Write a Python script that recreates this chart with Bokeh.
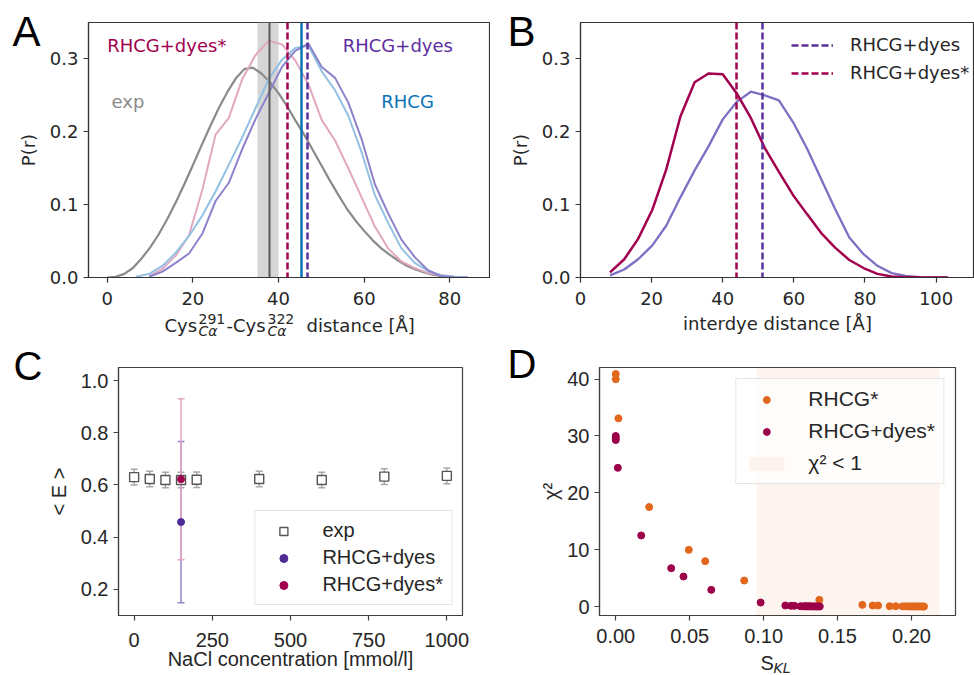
from bokeh.plotting import figure
from bokeh.layouts import row, column
from bokeh.models import (ColumnDataSource, Label, Legend, LegendItem, Range1d,
                          FixedTicker, NumeralTickFormatter, Whisker, TeeHead)
from bokeh.core.properties import value
from bokeh.embed import file_html
from bokeh.resources import INLINE

# ---------------- data ----------------
# Panel A : Cys291-Cys322 distance distributions
a_exp_r = [0, 2, 4, 6, 8, 10, 12, 14, 16, 18, 20, 22, 24, 26, 28, 30, 32, 34, 36, 38, 40,
           42, 44, 46, 48, 50, 52, 54, 56, 58, 60, 62, 64, 66, 68, 70, 72, 74, 76, 78, 80]
a_exp_p = [0.000, 0.001, 0.005, 0.013, 0.026, 0.041, 0.059, 0.080, 0.103, 0.128, 0.154,
           0.181, 0.207, 0.232, 0.254, 0.273, 0.286, 0.288, 0.280, 0.268, 0.253, 0.235,
           0.215, 0.196, 0.175, 0.154, 0.133, 0.113, 0.094, 0.078, 0.064, 0.051, 0.040,
           0.031, 0.023, 0.016, 0.011, 0.007, 0.004, 0.002, 0.001]
a_star_r = [9.8, 12.9, 16.0, 19.1, 22.2, 25.3, 28.4, 31.5, 34.6, 37.7, 40.8, 43.9, 47.0,
            50.1, 53.2, 56.3, 59.4, 62.5, 65.6, 68.7, 71.8, 74.9, 78.0, 81.1, 84.2]
a_star_p = [0.002, 0.012, 0.030, 0.058, 0.120, 0.196, 0.219, 0.272, 0.305, 0.325, 0.320,
            0.298, 0.265, 0.216, 0.188, 0.150, 0.110, 0.070, 0.040, 0.022, 0.013, 0.006,
            0.003, 0.001, 0.000]
a_rhcg_r = [6.7, 9.8, 12.9, 16.0, 19.1, 22.2, 25.3, 28.4, 31.5, 34.6, 37.7, 40.8, 43.9,
            47.0, 50.1, 53.2, 56.3, 59.4, 62.5, 65.6, 68.7, 71.8, 74.9, 78.0, 81.1, 84.2]
a_rhcg_p = [0.001, 0.005, 0.016, 0.034, 0.057, 0.085, 0.118, 0.155, 0.192, 0.232, 0.272,
            0.299, 0.315, 0.318, 0.283, 0.257, 0.222, 0.172, 0.113, 0.075, 0.040, 0.020,
            0.009, 0.003, 0.001, 0.000]
a_dyes_r = [9.8, 12.9, 16.0, 19.1, 22.2, 25.3, 28.4, 31.5, 34.6, 37.7, 40.8, 43.9, 47.0,
            50.1, 53.2, 56.3, 59.4, 62.5, 65.6, 68.7, 71.8, 74.9, 78.0, 81.1, 84.2]
a_dyes_p = [0.001, 0.008, 0.020, 0.033, 0.060, 0.105, 0.130, 0.176, 0.217, 0.253, 0.289,
            0.311, 0.321, 0.289, 0.274, 0.240, 0.190, 0.128, 0.088, 0.052, 0.028, 0.010,
            0.002, 0.0005, 0.000]
a_exp_mean = 37.8
a_exp_mean_lo = 35.0
a_exp_mean_hi = 40.0
a_star_mean = 42.1
a_rhcg_mean = 45.4
a_dyes_mean = 46.8

# Panel B : interdye distance distributions
b_r = [8.3, 12.3, 16.2, 20.2, 24.1, 28.1, 32.1, 36.0, 40.0, 43.9, 47.9, 51.8, 55.8,
       59.8, 63.7, 67.7, 71.6, 75.6, 79.6, 83.5, 87.5, 91.4, 95.4, 99.3, 103.3]
b_star_p = [0.007, 0.025, 0.053, 0.093, 0.148, 0.221, 0.268, 0.280, 0.279, 0.253, 0.219,
            0.178, 0.145, 0.113, 0.087, 0.061, 0.041, 0.024, 0.013, 0.005, 0.0015,
            0.0005, 0.0002, 0.0001, 0.0]
b_dyes_p = [0.003, 0.011, 0.025, 0.044, 0.071, 0.110, 0.147, 0.180, 0.217, 0.241, 0.255,
            0.250, 0.243, 0.213, 0.177, 0.135, 0.094, 0.055, 0.032, 0.016, 0.006, 0.0023,
            0.0006, 0.0001, 0.0]
b_dyes_mean = 51.3
b_star_mean = 44.0

# Panel C : <E> vs NaCl concentration
c_salt = [0, 50, 100, 150, 200, 400, 600, 800, 1000]
c_E_exp = [0.630, 0.623, 0.619, 0.619, 0.620, 0.623, 0.619, 0.632, 0.635]
c_E_exp_err = [0.03, 0.03, 0.03, 0.03, 0.03, 0.03, 0.03, 0.03, 0.03]
c_salt_sim = [150]
c_E_dyes = [0.458]
c_E_dyes_err = [0.309]
c_E_star = [0.622]
c_E_star_err = [0.308]

# Panel D : chi^2 vs S_KL
d_skl_rhcg = [0.0, 0.0, 0.0018, 0.0226, 0.0494, 0.0605, 0.0869, 0.1377, 0.1668, 0.1738,
              0.1774, 0.1853, 0.1894, 0.1940, 0.1960, 0.1975, 0.1990, 0.2000, 0.2010,
              0.2020, 0.2030, 0.2040, 0.2050, 0.2060, 0.2070, 0.2080, 0.2085]
d_chi_rhcg = [40.9, 40.0, 33.1, 17.5, 9.97, 7.98, 4.57, 1.17, 0.29, 0.18, 0.18, 0.06, 0.06,
              0.03, 0.03, 0.02, 0.02, 0.02, 0.02, 0.01, 0.01, 0.01, 0.01, 0.01, 0.01,
              0.0, 0.0]
d_skl_star = [0.0, 0.0, 0.0, 0.0014, 0.0172, 0.0375, 0.0458, 0.0646, 0.098, 0.1147,
              0.1185, 0.1208, 0.125, 0.127, 0.128, 0.129, 0.130, 0.131, 0.132, 0.133,
              0.134, 0.135, 0.136, 0.137, 0.138]
d_chi_star = [30.0, 29.6, 29.3, 24.4, 12.5, 6.74, 5.28, 2.93, 0.70, 0.18, 0.12, 0.12, 0.05,
              0.04, 0.04, 0.03, 0.03, 0.03, 0.02, 0.02, 0.02, 0.02, 0.01, 0.01, 0.01]
d_span_lo = 0.095
d_span_hi = 0.219

# ---------------- style ----------------
CRIMSON = "#a1004f"
PURPLE = "#5b2e9e"
PURPLE_LINE = "#7b71c3"
LAVENDER = "#8d83cb"
BLUE = "#0b72b5"
LIGHTBLUE = "#93c1e3"
PINK = "#e2a8c0"
GRAY = "#8a8a8a"
DARKGRAY = "#5a5a5a"
BAND = "#cfcfcf"
ORANGE = "#e2671c"
TXT = "#262626"
DJ = "DejaVu Sans"
LB = "Liberation Sans"


def make_fig(w, h, xr, yr, bl, br, bt, bb, font, fs, spine):
    p = figure(width=w, height=h, x_range=Range1d(*xr), y_range=Range1d(*yr),
               output_backend="svg", toolbar_location=None,
               min_border_left=bl, min_border_right=br, min_border_top=bt,
               min_border_bottom=bb)
    p.xgrid.visible = False
    p.ygrid.visible = False
    p.outline_line_color = spine
    p.outline_line_width = 1.2
    p.outline_line_alpha = 1.0
    for ax in (p.xaxis[0], p.yaxis[0]):
        ax.axis_line_color = spine
        ax.axis_line_width = 1.2
        ax.major_tick_line_color = spine
        ax.major_tick_line_width = 1.2
        ax.major_tick_in = 0
        ax.major_tick_out = 5
        ax.minor_tick_line_color = None
        ax.major_label_text_font = font
        ax.major_label_text_font_size = fs
        ax.major_label_text_color = TXT
        ax.axis_label_text_font = font
        ax.axis_label_text_font_size = fs
        ax.axis_label_text_font_style = "normal"
        ax.axis_label_text_color = TXT
    return p


def otext(p, x, y, t, dx, dy, font, size, style="normal", align="left", color=TXT):
    # free text outside the frame (overlay level is not clipped to the frame)
    p.text(x=[x], y=[y], text=[t], x_offset=dx, y_offset=dy, text_font=value(font),
           text_font_size=size, text_font_style=style, text_color=color,
           text_align=align, text_baseline="alphabetic", level="overlay")


# ---------------- Panel A ----------------
pA = make_fig(490, 340, (-4.37, 89.5), (0, 0.35), 88, 0, 22, 63, DJ, "18px", "#333333")
pA.xaxis.ticker = FixedTicker(ticks=[0, 20, 40, 60, 80])
pA.yaxis.ticker = FixedTicker(ticks=[0, 0.1, 0.2, 0.3])
pA.yaxis.formatter = NumeralTickFormatter(format="0.0")
pA.xaxis.major_label_standoff = 9
pA.yaxis.major_label_standoff = 5
pA.yaxis.axis_label = "P(r)"
pA.yaxis.axis_label_standoff = 8

pA.vstrip(x0=[a_exp_mean_lo], x1=[a_exp_mean_hi], fill_color=BAND, fill_alpha=0.85,
          line_color=None)
pA.line(a_exp_r, a_exp_p, line_color=GRAY, line_width=2.2)
pA.line(a_star_r, a_star_p, line_color=PINK, line_width=2)
pA.line(a_rhcg_r, a_rhcg_p, line_color=LIGHTBLUE, line_width=2)
pA.line(a_dyes_r, a_dyes_p, line_color=LAVENDER, line_width=2)
pA.vspan(x=[a_exp_mean], line_color=DARKGRAY, line_width=2)
pA.vspan(x=[a_star_mean], line_color=CRIMSON, line_width=2.5, line_dash="7 3")
pA.vspan(x=[a_rhcg_mean], line_color=BLUE, line_width=2.5)
pA.vspan(x=[a_dyes_mean], line_color=PURPLE, line_width=2.5, line_dash="7 3")

for tx, ty, tt, tc in [(0, 0.308, "RHCG+dyes*", CRIMSON), (55, 0.308, "RHCG+dyes", PURPLE),
                       (1, 0.231, "exp", GRAY), (64, 0.231, "RHCG", BLUE)]:
    pA.add_layout(Label(x=tx, y=ty, y_offset=8, text=tt, text_color=tc, text_font=DJ,
                        text_font_size="18px", text_align="left",
                        text_baseline="alphabetic"))

# composed x label with super/subscripts
xc = (pA.x_range.start + pA.x_range.end) / 2
pieces = [("Cys", -125, 48, "18px", "normal"),
          ("291", -91, 41, "14px", "normal"),
          ("Cα", -91, 53, "14px", "italic"),
          ("-Cys", -63, 48, "18px", "normal"),
          ("322", -22, 41, "14px", "normal"),
          ("Cα", -22, 53, "14px", "italic"),
          ("distance [Å]", 17, 48, "18px", "normal")]
for t, dx, dy, fs, st in pieces:
    otext(pA, xc, pA.y_range.start, t, dx, dy, DJ, fs, st)
otext(pA, pA.x_range.start, pA.y_range.end, "A", -76, 9, LB, "42px", color="black")

# ---------------- Panel B ----------------
pB = make_fig(484, 340, (0, 110.8), (0, 0.35), 90, 0, 22, 62, DJ, "18px", "#333333")
pB.xaxis.ticker = FixedTicker(ticks=[0, 20, 40, 60, 80, 100])
pB.yaxis.ticker = FixedTicker(ticks=[0, 0.1, 0.2, 0.3])
pB.yaxis.formatter = NumeralTickFormatter(format="0.0")
pB.xaxis.major_label_standoff = 9
pB.yaxis.major_label_standoff = 5
pB.yaxis.axis_label = "P(r)"
pB.yaxis.axis_label_standoff = 8
pB.xaxis.axis_label = "interdye distance [Å]"
pB.xaxis.axis_label_standoff = 5

pB.line(b_r, b_dyes_p, line_color=PURPLE_LINE, line_width=2.3)
pB.line(b_r, b_star_p, line_color=CRIMSON, line_width=2.5)
vb_d = pB.vspan(x=[b_dyes_mean], line_color=PURPLE, line_width=2.5, line_dash="7 3")
vb_s = pB.vspan(x=[b_star_mean], line_color=CRIMSON, line_width=2.5, line_dash="7 3")
legB = Legend(items=[LegendItem(label="RHCG+dyes", renderers=[vb_d]),
                     LegendItem(label="RHCG+dyes*", renderers=[vb_s])],
              location=(205, 188), padding=6, spacing=7, glyph_width=42,
              glyph_height=20, label_standoff=17, label_text_font=DJ,
              label_text_font_size="18px", label_text_color=TXT,
              border_line_alpha=0, background_fill_alpha=0)
pB.add_layout(legB)
otext(pB, pB.x_range.start, pB.y_range.end, "B", -73, 9, LB, "42px", color="black")

# ---------------- Panel C ----------------
pC = make_fig(500, 335, (-50, 1050), (0.1, 1.05), 118, 38, 24, 55, LB, "20px", "#404040")
pC.xaxis.ticker = FixedTicker(ticks=[0, 250, 500, 750, 1000])
pC.yaxis.ticker = FixedTicker(ticks=[0.2, 0.4, 0.6, 0.8, 1.0])
pC.yaxis.formatter = NumeralTickFormatter(format="0.0")
pC.xaxis.major_label_standoff = 12
pC.yaxis.major_label_standoff = 5
pC.yaxis.axis_label = "< E >"
pC.yaxis.axis_label_standoff = 8

src_exp = ColumnDataSource(dict(x=c_salt, y=c_E_exp,
                                lo=[v - e for v, e in zip(c_E_exp, c_E_exp_err)],
                                hi=[v + e for v, e in zip(c_E_exp, c_E_exp_err)]))
src_dyes = ColumnDataSource(dict(x=c_salt_sim, y=c_E_dyes,
                                 lo=[v - e for v, e in zip(c_E_dyes, c_E_dyes_err)],
                                 hi=[v + e for v, e in zip(c_E_dyes, c_E_dyes_err)]))
src_star = ColumnDataSource(dict(x=c_salt_sim, y=c_E_star,
                                 lo=[v - e for v, e in zip(c_E_star, c_E_star_err)],
                                 hi=[v + e for v, e in zip(c_E_star, c_E_star_err)]))
for src, col in [(src_exp, "#a8a8a8"), (src_dyes, "#8f86cc"), (src_star, "#e6a6c0")]:
    pC.add_layout(Whisker(source=src, base="x", lower="lo", upper="hi", line_color=col,
                          line_width=1.5,
                          lower_head=TeeHead(size=7, line_color=col, line_width=1.5),
                          upper_head=TeeHead(size=7, line_color=col, line_width=1.5)))
r_exp = pC.scatter("x", "y", source=src_exp, marker="square", size=9,
                   fill_color="white", line_color="#555555", line_width=1.4)
r_dyes = pC.scatter("x", "y", source=src_dyes, marker="circle", size=7,
                    fill_color="#4e2a94", line_color="#4e2a94")
r_star = pC.scatter("x", "y", source=src_star, marker="circle", size=7,
                    fill_color=CRIMSON, line_color=CRIMSON)
legC = Legend(items=[LegendItem(label="exp", renderers=[r_exp]),
                     LegendItem(label="RHCG+dyes", renderers=[r_dyes]),
                     LegendItem(label="RHCG+dyes*", renderers=[r_star])],
              location="bottom_right", margin=10, padding=8, spacing=4,
              glyph_width=40, glyph_height=20, label_standoff=19,
              label_text_font=LB, label_text_font_size="20px", label_text_color=TXT,
              border_line_color="#cccccc", border_line_width=1.2,
              background_fill_alpha=0.8)
pC.add_layout(legC)
xcC = (pC.x_range.start + pC.x_range.end) / 2
otext(pC, xcC, pC.y_range.start, "NaCl concentration [mmol/l]", 0, 43, LB, "20px",
      align="center")
otext(pC, pC.x_range.start, pC.y_range.end, "C", -105, -2, LB, "40px", color="black")

# ---------------- Panel D ----------------
pD = make_fig(474, 335, (-0.011, 0.2298), (-1.58, 42.05), 99, 19, 27, 60, LB, "20px",
              "#404040")
pD.xaxis.ticker = FixedTicker(ticks=[0, 0.05, 0.10, 0.15, 0.20])
pD.yaxis.ticker = FixedTicker(ticks=[0, 10, 20, 30, 40])
pD.xaxis.formatter = NumeralTickFormatter(format="0.00")
pD.xaxis.major_label_standoff = 8
pD.yaxis.major_label_standoff = 5
pD.yaxis.axis_label = "χ²"
pD.yaxis.axis_label_standoff = 2

r_span = pD.vstrip(x0=[d_span_lo], x1=[d_span_hi], fill_color=ORANGE, fill_alpha=0.07,
                   line_color=None)
r_rh = pD.scatter(d_skl_rhcg, d_chi_rhcg, marker="circle", size=7, fill_color=ORANGE,
                  line_color=ORANGE)
r_st = pD.scatter(d_skl_star, d_chi_star, marker="circle", size=7, fill_color="#9c0048",
                  line_color="#9c0048")
legD = Legend(items=[LegendItem(label="RHCG*", renderers=[r_rh]),
                     LegendItem(label="RHCG+dyes*", renderers=[r_st]),
                     LegendItem(label="χ² < 1", renderers=[r_span])],
              location="top_right", margin=11, padding=8, spacing=8,
              glyph_width=44, glyph_height=17, label_standoff=20,
              label_text_font=LB, label_text_font_size="21px", label_text_color=TXT,
              border_line_color="#cccccc", border_line_width=1.2,
              background_fill_alpha=0.8)
pD.add_layout(legD)
xcD = (pD.x_range.start + pD.x_range.end) / 2
otext(pD, xcD, pD.y_range.start, "S", -17, 47, LB, "20px")
otext(pD, xcD, pD.y_range.start, "KL", -4, 52, DJ, "14px", "italic")
otext(pD, pD.x_range.start, pD.y_range.end, "D", -92, -4, LB, "40px", color="black")

layout = column(row(pA, pB), row(pC, pD))
open("out.html", "w").write(file_html(layout, INLINE))
